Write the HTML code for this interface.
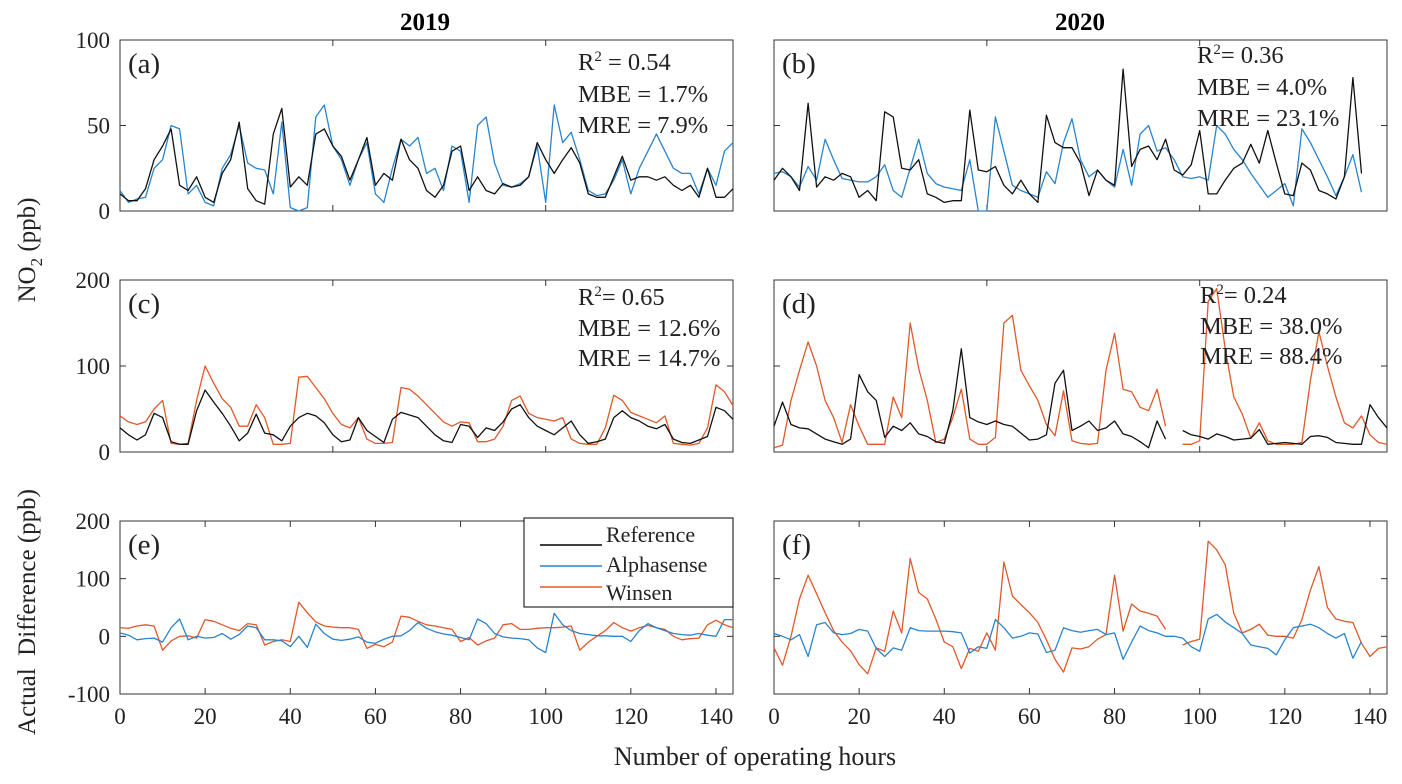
<!DOCTYPE html>
<html><head><meta charset="utf-8"><style>
html,body{margin:0;padding:0;background:#fff}
svg{display:block}
text{font-family:"Liberation Serif",serif;fill:#222}
</style></head><body>
<svg id="fig" width="1402" height="784" viewBox="0 0 1402 784"></svg>
<script>
const hours=[];for(let i=0;i<=72;i++)hours.push(i*2);
const ref2019=[10,6,6,13,30,38,48,15,12,20,8,5,22,30,52,13,6,4,45,60,14,20,15,45,48,38,32,18,30,43,15,22,18,42,30,25,12,8,15,35,38,12,20,12,10,16,14,15,20,40,30,22,30,37,28,10,8,8,20,32,18,20,20,18,20,15,12,15,8,25,8,8,13];
const alpha2019=[12,5,7,8,25,30,50,48,10,15,5,3,25,33,50,28,25,24,10,52,2,0,2,55,62,38,30,15,30,40,10,5,25,42,38,43,22,25,12,38,35,5,50,55,28,15,14,16,20,38,5,62,40,46,30,12,9,10,18,30,10,25,35,45,35,25,22,22,10,25,15,35,40];
const ref2020=[18,25,20,12,63,14,20,18,22,20,8,12,6,58,55,25,24,30,10,8,5,6,6,59,24,23,26,15,10,18,10,5,56,40,37,37,28,9,24,18,15,83,26,36,38,30,42,24,21,27,47,10,10,18,25,28,39,28,47,28,10,9,28,24,12,10,7,20,78,22,null,null,null];
const alpha2020=[22,23,20,14,26,18,42,30,19,18,17,17,20,27,12,8,25,42,22,16,14,13,12,30,0,0,55,35,15,12,10,8,23,16,40,54,30,20,24,18,14,36,15,45,50,35,37,30,20,19,20,18,50,45,36,30,22,15,8,12,16,3,48,40,30,20,9,20,33,11,null,null,null];
const refC2019=[28,20,14,20,45,40,12,9,9,48,72,58,45,30,13,22,44,22,20,13,30,40,45,42,34,20,12,14,40,25,18,11,38,46,43,40,30,20,13,11,32,30,17,28,25,35,50,55,40,30,25,20,28,36,20,10,12,15,40,48,40,36,30,27,32,15,11,10,14,18,52,48,38];
const winsen2019=[42,35,32,35,50,60,10,9,10,60,100,80,62,52,30,30,55,40,9,9,10,87,88,75,62,45,32,28,40,15,10,10,11,75,73,65,55,45,35,30,35,34,12,12,15,30,60,65,45,40,38,36,40,15,10,9,9,28,66,60,46,42,38,34,42,10,9,8,10,28,78,70,54];
const refD2020=[30,58,32,28,27,21,15,12,9,15,90,70,60,17,30,25,34,21,18,12,10,48,120,40,35,32,36,32,30,22,14,15,20,80,95,25,30,36,25,28,36,21,18,12,5,36,15,null,25,20,18,15,21,18,14,15,16,26,9,10,11,10,9,18,19,17,11,10,9,9,55,40,28];
const winsen2020=[5,8,60,95,128,100,60,40,11,55,30,9,9,9,64,40,150,97,60,11,15,40,73,15,9,9,17,150,159,95,77,60,32,19,71,13,10,9,10,95,138,73,70,52,48,73,30,null,9,9,13,175,190,120,64,44,16,34,13,9,9,9,11,83,140,100,64,34,28,42,20,11,9];
const diffAlpha2019=[6,2,-6,-4,-3,-10,15,30,-6,0,-3,-2,5,-5,3,18,15,-6,-6,-8,-18,0,-19,21,5,-5,-7,-5,-1,-10,-12,-5,0,1,10,24,14,8,4,2,-2,-6,30,22,5,-1,-3,-4,-6,-20,-28,40,20,10,5,3,1,1,0,0,-9,10,22,15,10,5,3,2,5,2,0,29,29];
const diffWinsen2019=[15,14,18,20,18,-24,-8,0,1,-3,29,26,20,14,10,22,20,-15,-9,-6,-9,59,41,25,18,16,15,15,12,-21,-14,-18,-10,35,33,26,20,18,15,12,-9,-2,-15,-8,-3,20,22,12,12,14,15,15,16,18,-24,-10,0,10,24,15,9,15,19,15,12,0,-6,-4,-3,20,28,20,15];
const diffAlpha2020=[5,0,-6,3,-35,20,24,6,3,5,12,9,-21,-35,-20,-24,15,10,9,9,9,8,6,-29,-18,-21,29,15,-3,0,6,4,-28,-24,15,10,7,10,12,3,6,-40,-10,18,10,6,0,0,-3,-18,-26,30,38,25,15,5,-15,-18,-21,-32,-6,15,18,21,15,5,-3,5,-38,-9,null,null,null];
const diffWinsen2020=[-20,-50,0,65,106,74,41,10,-10,-25,-49,-65,-20,-26,44,6,135,76,65,30,-10,-18,-56,-21,-26,6,-24,129,70,55,41,24,-6,-40,-62,-20,-22,-18,-5,3,106,9,56,44,40,35,12,null,-15,-9,-5,165,150,124,40,6,12,21,2,0,0,-3,29,80,121,50,30,26,24,-12,-35,-21,-18];
const yTicksTop=[0,50,100],yTicksMid=[0,100,200],yTicksBot=[-100,0,100,200];
const xTickLabels=[0,20,40,60,80,100,120,140];

const NS="http://www.w3.org/2000/svg",svg=document.getElementById('fig');
function mk(tag,at,parent){const e=document.createElementNS(NS,tag);for(const k in at)e.setAttribute(k,at[k]);(parent||svg).appendChild(e);return e;}
const BLUE="#2a84cc",ORANGE="#e0592a",BLACK="#111";
const cols=[120,774],W=613,rows=[{t:40,b:211,min:0,max:100,ticks:yTicksTop},{t:280,b:452,min:0,max:200,ticks:yTicksMid},{t:521,b:694,min:-100,max:200,ticks:yTicksBot}];
function xs(c,h){return cols[c]+h/144*W;}
function ys(r,v){const R=rows[r];return R.b-(v-R.min)/(R.max-R.min)*(R.b-R.t);}
function series(c,r,vals,color,name){
  let d="",pen=false;
  vals.forEach((v,i)=>{if(v===null){pen=false;return;}d+=(pen?"L":"M")+xs(c,hours[i]).toFixed(1)+" "+ys(r,v).toFixed(1);pen=true;});
  const p=mk('path',{d:d,fill:"none",stroke:color,"stroke-width":1.3,"stroke-linejoin":"round"});
  
  
}
const letters=[["(a)","(b)"],["(c)","(d)"],["(e)","(f)"]];
for(let r=0;r<3;r++)for(let c=0;c<2;c++){
  const R=rows[r],x0=cols[c];
  const g=mk('g',{});
  
  
  mk('rect',{x:x0,y:R.t,width:W,height:R.b-R.t,fill:"#fff",stroke:"#333","stroke-width":1},g);
  R.ticks.forEach(v=>{const y=ys(r,v);
    mk('line',{x1:x0,x2:x0+6,y1:y,y2:y,stroke:"#333"},g);mk('line',{x1:x0+W-6,x2:x0+W,y1:y,y2:y,stroke:"#333"},g);
    if(c===0){const t=mk('text',{x:x0-10,y:y+8,"text-anchor":"end","font-size":23},g);t.textContent=v;
      }
  });
  const xt=r===2?[20,40,60,80,100,120,140]:[50,100];
  xt.forEach(h=>{const x=xs(c,h);mk('line',{x1:x,x2:x,y1:R.b,y2:R.b-6,stroke:"#333"},g);mk('line',{x1:x,x2:x,y1:R.t,y2:R.t+6,stroke:"#333"},g);});
  const lt=mk('text',{x:x0+8,y:R.t+33,"font-size":29},g);lt.textContent=letters[r][c];
  
}
xTickLabels.forEach(h=>{for(let c=0;c<2;c++){const t=mk('text',{x:xs(c,h),y:724,"text-anchor":"middle","font-size":23});t.textContent=h;
  }});
series(0,0,alpha2019,BLUE,'alphasense-2019');series(0,0,ref2019,BLACK,'reference-2019');
series(1,0,alpha2020,BLUE,'alphasense-2020');series(1,0,ref2020,BLACK,'reference-2020');
series(0,1,winsen2019,ORANGE,'winsen-2019');series(0,1,refC2019,BLACK,'reference-c-2019');
series(1,1,winsen2020,ORANGE,'winsen-2020');series(1,1,refD2020,BLACK,'reference-d-2020');
series(0,2,diffWinsen2019,ORANGE,'diff-winsen-2019');series(0,2,diffAlpha2019,BLUE,'diff-alphasense-2019');
series(1,2,diffWinsen2020,ORANGE,'diff-winsen-2020');series(1,2,diffAlpha2020,BLUE,'diff-alphasense-2020');
</script>
<svg width="1402" height="784" style="position:absolute;left:0;top:0">
<text x="425" y="30" font-size="25" font-weight="bold" text-anchor="middle" style="fill:#000">2019</text>
<text x="1080" y="30" font-size="25" font-weight="bold" text-anchor="middle" style="fill:#000">2020</text>
<g font-size="24.5">
<text x="578" y="70">R<tspan font-size="15" dy="-9">2</tspan><tspan dy="9"> = 0.54</tspan></text>
<text x="578" y="102">MBE = 1.7%</text><text x="578" y="133">MRE = 7.9%</text></g>
<g font-size="24.5">
<text x="1197" y="63">R<tspan font-size="15" dy="-9">2</tspan><tspan dy="9">= 0.36</tspan></text>
<text x="1197" y="95">MBE = 4.0%</text><text x="1197" y="126">MRE = 23.1%</text></g>
<g font-size="24.5">
<text x="578" y="305">R<tspan font-size="15" dy="-9">2</tspan><tspan dy="9">= 0.65</tspan></text>
<text x="578" y="336">MBE = 12.6%</text><text x="578" y="366">MRE = 14.7%</text></g>
<g font-size="24.5">
<text x="1200" y="303">R<tspan font-size="15" dy="-9">2</tspan><tspan dy="9">= 0.24</tspan></text>
<text x="1200" y="334">MBE = 38.0%</text><text x="1200" y="364">MRE = 88.4%</text></g>
<g>
<rect x="524" y="518" width="209" height="89" fill="#fff" stroke="#000"/>
<line x1="540" x2="602" y1="545" y2="545" stroke="#000" stroke-width="1.5"/>
<line x1="540" x2="602" y1="566" y2="566" stroke="#2a84cc" stroke-width="1.5"/>
<line x1="540" x2="602" y1="587" y2="587" stroke="#e0592a" stroke-width="1.5"/>
<text x="606" y="542" font-size="22">Reference</text>
<text x="606" y="572" font-size="22">Alphasense</text>
<text x="606" y="600" font-size="22">Winsen</text>
</g>
<text transform="translate(35,250) rotate(-90)" font-size="25" text-anchor="middle">NO<tspan font-size="17" dy="7">2</tspan><tspan dy="-7">  (ppb)</tspan></text>
<text transform="translate(35,612) rotate(-90)" font-size="25" text-anchor="middle" xml:space="preserve">Actual  Difference (ppb)</text>
<text x="755" y="765" font-size="26" text-anchor="middle">Number of operating hours</text>
</svg>
</body></html>
